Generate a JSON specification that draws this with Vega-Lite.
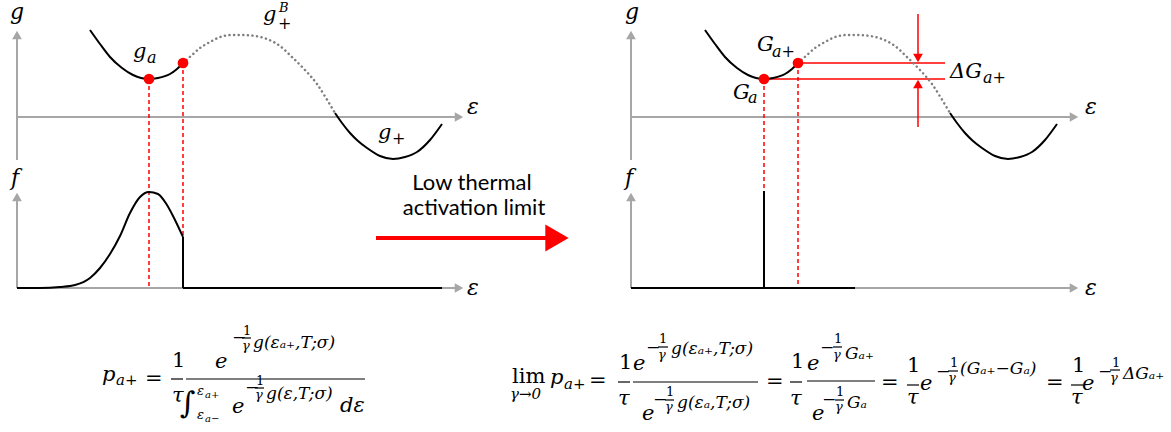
{
"$schema": "https://vega.github.io/schema/vega-lite/v6.json",
"width": 1171, "height": 432,
"autosize": {"type": "fit", "contains": "padding"},
"padding": 0,
"background": "white",
"config": {"view": {"stroke": null}, "text": {"align": "left", "baseline": "middle", "font": "DejaVu Serif", "fill": "black"}},
"datasets": {
"axes": [
{"x":17,"y":160,"x2":17,"y2":38},{"x":17,"y":117,"x2":456,"y2":117},
{"x":17,"y":288,"x2":17,"y2":200},{"x":17,"y":288,"x2":456,"y2":288},
{"x":631,"y":160,"x2":631,"y2":38},{"x":631,"y":117,"x2":1071,"y2":117},
{"x":631,"y":288,"x2":631,"y2":200},{"x":631,"y":288,"x2":1071,"y2":288}
],
"dashed": [
{"x":149,"y":79,"x2":149,"y2":288},{"x":183,"y":63,"x2":183,"y2":288},
{"x":764,"y":79,"x2":764,"y2":288},{"x":798,"y":63,"x2":798,"y2":288}
],
"redlines": [
{"x":798,"y":63,"x2":945,"y2":63},{"x":764,"y":79,"x2":945,"y2":79},
{"x":918,"y":14,"x2":918,"y2":55},{"x":918,"y":87,"x2":918,"y2":127}
],
"bigarrow": [{"x":376,"y":238,"x2":549,"y2":238}],
"bighead": [{"x":557,"y":238}],
"blacklines": [
{"x":183,"y":237,"x2":183,"y2":288},{"x":183,"y":288,"x2":442,"y2":288},
{"x":631,"y":288,"x2":855,"y2":288},{"x":764,"y":191,"x2":764,"y2":288}
],
"curves": [
{"id":"LA","st":"solid","x":90,"y":30},{"id":"LA","st":"solid","x":100,"y":44},{"id":"LA","st":"solid","x":110,"y":57},{"id":"LA","st":"solid","x":122,"y":68},{"id":"LA","st":"solid","x":133,"y":75},{"id":"LA","st":"solid","x":141,"y":78},{"id":"LA","st":"solid","x":149,"y":79},{"id":"LA","st":"solid","x":158,"y":78},{"id":"LA","st":"solid","x":170,"y":74},{"id":"LA","st":"solid","x":177,"y":69},{"id":"LA","st":"solid","x":183,"y":63},
{"id":"LB","st":"dot","x":183,"y":63},{"id":"LB","st":"dot","x":192,"y":55},{"id":"LB","st":"dot","x":200,"y":48},{"id":"LB","st":"dot","x":210,"y":42},{"id":"LB","st":"dot","x":220,"y":37},{"id":"LB","st":"dot","x":232,"y":35},{"id":"LB","st":"dot","x":243,"y":35},{"id":"LB","st":"dot","x":255,"y":36},{"id":"LB","st":"dot","x":267,"y":39},{"id":"LB","st":"dot","x":280,"y":46},{"id":"LB","st":"dot","x":293,"y":58},{"id":"LB","st":"dot","x":305,"y":70},{"id":"LB","st":"dot","x":317,"y":84},{"id":"LB","st":"dot","x":326,"y":98},{"id":"LB","st":"dot","x":335,"y":113},
{"id":"LC","st":"solid","x":335,"y":113},{"id":"LC","st":"solid","x":342,"y":123},{"id":"LC","st":"solid","x":350,"y":133},{"id":"LC","st":"solid","x":358,"y":141},{"id":"LC","st":"solid","x":367,"y":148},{"id":"LC","st":"solid","x":380,"y":156},{"id":"LC","st":"solid","x":393,"y":159},{"id":"LC","st":"solid","x":405,"y":157},{"id":"LC","st":"solid","x":417,"y":152},{"id":"LC","st":"solid","x":430,"y":140},{"id":"LC","st":"solid","x":442,"y":124},
{"id":"RA","st":"solid","x":705,"y":30},{"id":"RA","st":"solid","x":715,"y":44},{"id":"RA","st":"solid","x":725,"y":57},{"id":"RA","st":"solid","x":737,"y":68},{"id":"RA","st":"solid","x":748,"y":75},{"id":"RA","st":"solid","x":756,"y":78},{"id":"RA","st":"solid","x":764,"y":79},{"id":"RA","st":"solid","x":773,"y":78},{"id":"RA","st":"solid","x":785,"y":74},{"id":"RA","st":"solid","x":792,"y":69},{"id":"RA","st":"solid","x":798,"y":63},
{"id":"RB","st":"dot","x":798,"y":63},{"id":"RB","st":"dot","x":807,"y":55},{"id":"RB","st":"dot","x":815,"y":48},{"id":"RB","st":"dot","x":825,"y":42},{"id":"RB","st":"dot","x":835,"y":37},{"id":"RB","st":"dot","x":847,"y":35},{"id":"RB","st":"dot","x":858,"y":35},{"id":"RB","st":"dot","x":870,"y":36},{"id":"RB","st":"dot","x":882,"y":39},{"id":"RB","st":"dot","x":895,"y":46},{"id":"RB","st":"dot","x":908,"y":58},{"id":"RB","st":"dot","x":920,"y":70},{"id":"RB","st":"dot","x":932,"y":84},{"id":"RB","st":"dot","x":941,"y":98},{"id":"RB","st":"dot","x":950,"y":113},
{"id":"RC","st":"solid","x":950,"y":113},{"id":"RC","st":"solid","x":957,"y":123},{"id":"RC","st":"solid","x":965,"y":133},{"id":"RC","st":"solid","x":973,"y":141},{"id":"RC","st":"solid","x":982,"y":148},{"id":"RC","st":"solid","x":995,"y":156},{"id":"RC","st":"solid","x":1008,"y":159},{"id":"RC","st":"solid","x":1020,"y":157},{"id":"RC","st":"solid","x":1032,"y":152},{"id":"RC","st":"solid","x":1045,"y":140},{"id":"RC","st":"solid","x":1057,"y":124},
{"id":"LF","st":"solid","x":17,"y":288},{"id":"LF","st":"solid","x":40,"y":288},{"id":"LF","st":"solid","x":60,"y":287},{"id":"LF","st":"solid","x":75,"y":285},{"id":"LF","st":"solid","x":90,"y":278},{"id":"LF","st":"solid","x":100,"y":268},{"id":"LF","st":"solid","x":110,"y":254},{"id":"LF","st":"solid","x":120,"y":236},{"id":"LF","st":"solid","x":130,"y":213},{"id":"LF","st":"solid","x":140,"y":197},{"id":"LF","st":"solid","x":149,"y":192},{"id":"LF","st":"solid","x":158,"y":194},{"id":"LF","st":"solid","x":167,"y":205},{"id":"LF","st":"solid","x":175,"y":220},{"id":"LF","st":"solid","x":183,"y":237}
],
"dots": [{"x":149,"y":79},{"x":183,"y":63},{"x":764,"y":79},{"x":798,"y":63}],
"heads": [
{"x":17,"y":35,"d":"up","c":"g"},{"x":459,"y":117,"d":"right","c":"g"},
{"x":17,"y":197,"d":"up","c":"g"},{"x":459,"y":288,"d":"right","c":"g"},
{"x":631,"y":35,"d":"up","c":"g"},{"x":1074,"y":117,"d":"right","c":"g"},
{"x":631,"y":197,"d":"up","c":"g"},{"x":1074,"y":288,"d":"right","c":"g"},
{"x":918,"y":58,"d":"down","c":"r"},{"x":918,"y":84,"d":"up","c":"r"}
],
"bars": [
{"x":171,"x2":183,"y":379,"y2":379},{"x":186,"x2":365,"y":379,"y2":379},
{"x":242,"x2":251,"y":338,"y2":338},{"x":255,"x2":264,"y":388,"y2":388},
{"x":618,"x2":630,"y":382,"y2":382},{"x":633,"x2":758,"y":382,"y2":382},
{"x":658,"x2":668,"y":347,"y2":347},{"x":665,"x2":674,"y":400,"y2":400},
{"x":790,"x2":802,"y":382,"y2":382},{"x":807,"x2":875,"y":381,"y2":381},
{"x":833,"x2":842,"y":347,"y2":347},{"x":835,"x2":844,"y":400,"y2":400},
{"x":907,"x2":919,"y":385,"y2":385},{"x":948,"x2":958,"y":371,"y2":371},
{"x":1071,"x2":1083,"y":385,"y2":385},{"x":1110,"x2":1120,"y":370,"y2":370}
],
"sans": [{"t":"Low thermal","x":472,"y":183},{"t":"activation limit","x":474,"y":208}],
"tx": [
{"t":"g","x":10,"y":12,"s":"A","f":"i"},{"t":"g","x":625,"y":12,"s":"A","f":"i"},
{"t":"f","x":11,"y":178,"s":"A","f":"i"},{"t":"f","x":625,"y":178,"s":"A","f":"i"},
{"t":"ε","x":467,"y":107,"s":"A","f":"i"},{"t":"ε","x":1085,"y":107,"s":"A","f":"i"},
{"t":"ε","x":467,"y":288,"s":"A","f":"i"},{"t":"ε","x":1085,"y":288,"s":"A","f":"i"},
{"t":"g","x":133,"y":52,"s":"L","f":"i"},{"t":"a","x":147,"y":58,"s":"M","f":"i"},
{"t":"g","x":263,"y":15,"s":"L","f":"i"},{"t":"+","x":278,"y":24,"s":"M","f":"r"},{"t":"B","x":279,"y":8,"s":"T","f":"i"},
{"t":"g","x":378,"y":133,"s":"L","f":"i"},{"t":"+","x":392,"y":139,"s":"M","f":"r"},
{"t":"G","x":757,"y":45,"s":"L","f":"i"},{"t":"a+","x":772,"y":52,"s":"M","f":"i"},
{"t":"G","x":733,"y":93,"s":"L","f":"i"},{"t":"a","x":748,"y":98,"s":"M","f":"i"},
{"t":"ΔG","x":950,"y":72,"s":"L","f":"i"},{"t":"a+","x":983,"y":78,"s":"M","f":"i"},
{"t":"p","x":102,"y":375,"s":"L","f":"i"},{"t":"a+","x":116,"y":380,"s":"P","f":"i"},
{"t":"=","x":145,"y":379,"s":"L","f":"r"},
{"t":"1","x":172,"y":361,"s":"L","f":"r"},{"t":"τ","x":172,"y":396,"s":"L","f":"i"},
{"t":"e","x":215,"y":362,"s":"L","f":"i"},
{"t":"−","x":232,"y":338,"s":"S","f":"r"},{"t":"1","x":243,"y":331,"s":"T","f":"r"},{"t":"γ","x":242,"y":346,"s":"T","f":"i"},
{"t":"g(εₐ₊,T;σ)","x":253,"y":343,"s":"S","f":"i"},
{"t":"∫","x":180,"y":404,"s":"I","f":"r"},
{"t":"ε","x":197,"y":391,"s":"T","f":"i"},{"t":"a+","x":205,"y":395,"s":"U","f":"i"},
{"t":"ε","x":197,"y":415,"s":"T","f":"i"},{"t":"a−","x":205,"y":419,"s":"U","f":"i"},
{"t":"e","x":232,"y":407,"s":"L","f":"i"},
{"t":"−","x":245,"y":388,"s":"S","f":"r"},{"t":"1","x":256,"y":381,"s":"T","f":"r"},{"t":"γ","x":255,"y":395,"s":"T","f":"i"},
{"t":"g(ε,T;σ)","x":266,"y":394,"s":"S","f":"i"},
{"t":"dε","x":340,"y":406,"s":"L","f":"i"},
{"t":"lim","x":512,"y":377,"s":"L","f":"r"},{"t":"γ→0","x":510,"y":394,"s":"P","f":"i"},
{"t":"p","x":550,"y":378,"s":"L","f":"i"},{"t":"a+","x":564,"y":384,"s":"P","f":"i"},
{"t":"=","x":589,"y":381,"s":"L","f":"r"},
{"t":"1","x":619,"y":363,"s":"L","f":"r"},{"t":"τ","x":618,"y":399,"s":"L","f":"i"},
{"t":"e","x":633,"y":364,"s":"L","f":"i"},
{"t":"−","x":646,"y":348,"s":"S","f":"r"},{"t":"1","x":659,"y":339,"s":"T","f":"r"},{"t":"γ","x":658,"y":355,"s":"T","f":"i"},
{"t":"g(εₐ₊,T;σ)","x":671,"y":349,"s":"S","f":"i"},
{"t":"e","x":642,"y":414,"s":"L","f":"i"},
{"t":"−","x":653,"y":400,"s":"S","f":"r"},{"t":"1","x":666,"y":392,"s":"T","f":"r"},{"t":"γ","x":665,"y":407,"s":"T","f":"i"},
{"t":"g(εₐ,T;σ)","x":677,"y":403,"s":"S","f":"i"},
{"t":"=","x":766,"y":382,"s":"L","f":"r"},
{"t":"1","x":791,"y":362,"s":"L","f":"r"},{"t":"τ","x":790,"y":399,"s":"L","f":"i"},
{"t":"e","x":807,"y":364,"s":"L","f":"i"},
{"t":"−","x":820,"y":348,"s":"S","f":"r"},{"t":"1","x":834,"y":339,"s":"T","f":"r"},{"t":"γ","x":833,"y":355,"s":"T","f":"i"},
{"t":"Gₐ₊","x":845,"y":354,"s":"S","f":"i"},
{"t":"e","x":812,"y":414,"s":"L","f":"i"},
{"t":"−","x":822,"y":400,"s":"S","f":"r"},{"t":"1","x":836,"y":392,"s":"T","f":"r"},{"t":"γ","x":835,"y":407,"s":"T","f":"i"},
{"t":"Gₐ","x":847,"y":403,"s":"S","f":"i"},
{"t":"=","x":881,"y":383,"s":"L","f":"r"},
{"t":"1","x":907,"y":366,"s":"L","f":"r"},{"t":"τ","x":907,"y":398,"s":"L","f":"i"},
{"t":"e","x":920,"y":384,"s":"L","f":"i"},
{"t":"−","x":936,"y":372,"s":"S","f":"r"},{"t":"1","x":950,"y":363,"s":"T","f":"r"},{"t":"γ","x":948,"y":378,"s":"T","f":"i"},
{"t":"(Gₐ₊−Gₐ)","x":960,"y":369,"s":"S","f":"i"},
{"t":"=","x":1046,"y":383,"s":"L","f":"r"},
{"t":"1","x":1072,"y":366,"s":"L","f":"r"},{"t":"τ","x":1071,"y":398,"s":"L","f":"i"},
{"t":"e","x":1082,"y":384,"s":"L","f":"i"},
{"t":"−","x":1098,"y":372,"s":"S","f":"r"},{"t":"1","x":1112,"y":363,"s":"T","f":"r"},{"t":"γ","x":1110,"y":378,"s":"T","f":"i"},
{"t":"ΔGₐ₊","x":1123,"y":374,"s":"S","f":"i"}
]
},
"encoding": {
"x": {"field": "x", "type": "quantitative", "scale": {"domain": [0, 1171], "nice": false, "zero": false}, "axis": null},
"y": {"field": "y", "type": "quantitative", "scale": {"domain": [0, 432], "nice": false, "zero": false, "reverse": true}, "axis": null}
},
"layer": [
{"data": {"name": "axes"}, "mark": {"type": "rule", "stroke": "#a6a6a6", "strokeWidth": 2}, "encoding": {"x2": {"field": "x2"}, "y2": {"field": "y2"}}},
{"data": {"name": "dashed"}, "mark": {"type": "rule", "stroke": "#ff0000", "strokeWidth": 1.5, "strokeDash": [4, 3]}, "encoding": {"x2": {"field": "x2"}, "y2": {"field": "y2"}}},
{"data": {"name": "redlines"}, "mark": {"type": "rule", "stroke": "#ff0000", "strokeWidth": 1.5}, "encoding": {"x2": {"field": "x2"}, "y2": {"field": "y2"}}},
{"data": {"name": "bigarrow"}, "mark": {"type": "rule", "stroke": "#ff0000", "strokeWidth": 4}, "encoding": {"x2": {"field": "x2"}, "y2": {"field": "y2"}}},
{"data": {"name": "bighead"}, "mark": {"type": "point", "shape": "triangle-right", "filled": true, "fill": "#ff0000", "opacity": 1, "strokeWidth": 0, "size": 729}},
{"data": {"name": "curves"}, "transform": [{"filter": "datum.st == 'dot'"}], "mark": {"type": "line", "interpolate": "monotone", "stroke": "#7f7f7f", "strokeWidth": 2.5, "strokeCap": "round", "strokeDash": [0.1, 4.5]}, "encoding": {"detail": {"field": "id"}}},
{"data": {"name": "curves"}, "transform": [{"filter": "datum.st == 'solid'"}], "mark": {"type": "line", "interpolate": "monotone", "stroke": "black", "strokeWidth": 2}, "encoding": {"detail": {"field": "id"}}},
{"data": {"name": "blacklines"}, "mark": {"type": "rule", "stroke": "black", "strokeWidth": 2}, "encoding": {"x2": {"field": "x2"}, "y2": {"field": "y2"}}},
{"data": {"name": "dots"}, "mark": {"type": "circle", "fill": "#ff0000", "opacity": 1, "size": 115}},
{"data": {"name": "heads"}, "mark": {"type": "point", "filled": true, "opacity": 1, "strokeWidth": 0, "size": 95},
 "encoding": {"shape": {"field": "d", "type": "nominal", "scale": {"domain": ["up", "right", "down"], "range": ["triangle-up", "triangle-right", "triangle-down"]}, "legend": null},
 "color": {"field": "c", "type": "nominal", "scale": {"domain": ["g", "r"], "range": ["#a6a6a6", "#ff0000"]}, "legend": null}}},
{"data": {"name": "bars"}, "mark": {"type": "rule", "stroke": "black", "strokeWidth": 1.2}, "encoding": {"x2": {"field": "x2"}, "y2": {"field": "y2"}}},
{"data": {"name": "sans"}, "mark": {"type": "text", "align": "center", "font": "Lato", "fontSize": 22}, "encoding": {"text": {"field": "t"}}},
{"data": {"name": "tx"}, "transform": [{"filter": "datum.f == 'i' && datum.s == 'A'"}], "mark": {"type": "text", "fontStyle": "italic", "fontSize": 22}, "encoding": {"text": {"field": "t"}}},
{"data": {"name": "tx"}, "transform": [{"filter": "datum.f == 'i' && datum.s == 'L'"}], "mark": {"type": "text", "fontStyle": "italic", "fontSize": 21}, "encoding": {"text": {"field": "t"}}},
{"data": {"name": "tx"}, "transform": [{"filter": "datum.f == 'i' && datum.s == 'M'"}], "mark": {"type": "text", "fontStyle": "italic", "fontSize": 16}, "encoding": {"text": {"field": "t"}}},
{"data": {"name": "tx"}, "transform": [{"filter": "datum.f == 'i' && datum.s == 'P'"}], "mark": {"type": "text", "fontStyle": "italic", "fontSize": 15}, "encoding": {"text": {"field": "t"}}},
{"data": {"name": "tx"}, "transform": [{"filter": "datum.f == 'i' && datum.s == 'S'"}], "mark": {"type": "text", "fontStyle": "italic", "fontSize": 17}, "encoding": {"text": {"field": "t"}}},
{"data": {"name": "tx"}, "transform": [{"filter": "datum.f == 'i' && datum.s == 'T'"}], "mark": {"type": "text", "fontStyle": "italic", "fontSize": 13}, "encoding": {"text": {"field": "t"}}},
{"data": {"name": "tx"}, "transform": [{"filter": "datum.f == 'i' && datum.s == 'U'"}], "mark": {"type": "text", "fontStyle": "italic", "fontSize": 10}, "encoding": {"text": {"field": "t"}}},
{"data": {"name": "tx"}, "transform": [{"filter": "datum.f == 'r' && datum.s == 'L'"}], "mark": {"type": "text", "fontSize": 21}, "encoding": {"text": {"field": "t"}}},
{"data": {"name": "tx"}, "transform": [{"filter": "datum.f == 'r' && datum.s == 'M'"}], "mark": {"type": "text", "fontSize": 16}, "encoding": {"text": {"field": "t"}}},
{"data": {"name": "tx"}, "transform": [{"filter": "datum.f == 'r' && datum.s == 'S'"}], "mark": {"type": "text", "fontSize": 17}, "encoding": {"text": {"field": "t"}}},
{"data": {"name": "tx"}, "transform": [{"filter": "datum.f == 'r' && datum.s == 'T'"}], "mark": {"type": "text", "fontSize": 13}, "encoding": {"text": {"field": "t"}}},
{"data": {"name": "tx"}, "transform": [{"filter": "datum.f == 'r' && datum.s == 'I'"}], "mark": {"type": "text", "fontSize": 30}, "encoding": {"text": {"field": "t"}}}
]
}
